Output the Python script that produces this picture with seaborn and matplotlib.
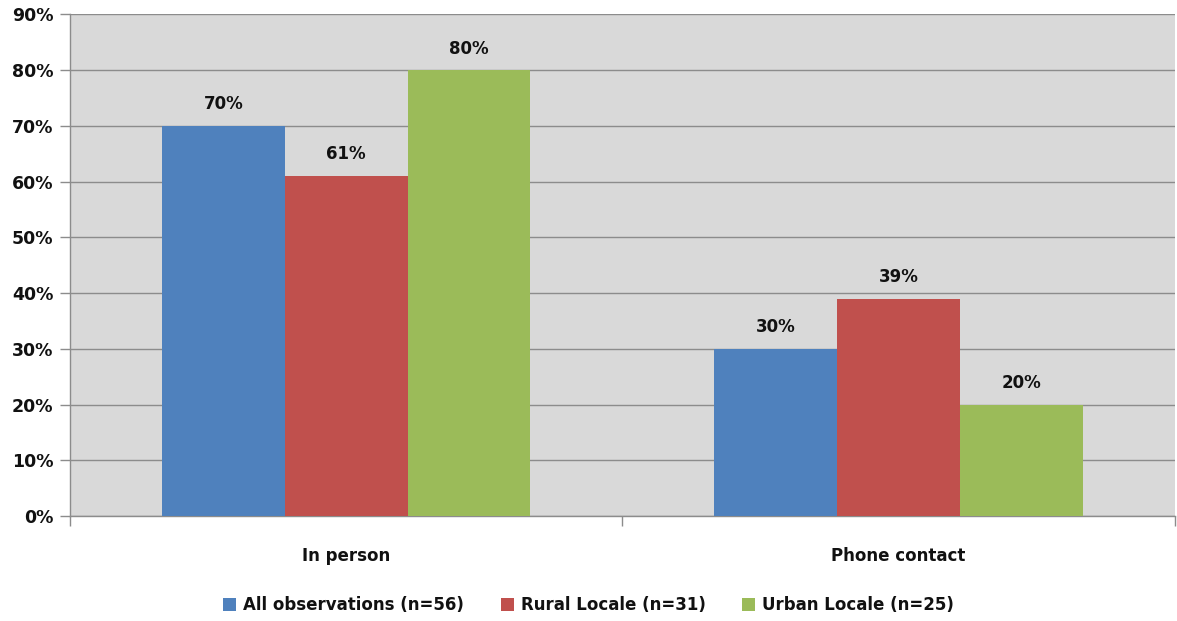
import matplotlib
matplotlib.use("Agg")
import matplotlib.pyplot as plt
import seaborn as sns
import pandas as pd
from matplotlib.patches import Patch

categories = ["In person", "Phone contact"]
series = ["All observations (n=56)", "Rural Locale (n=31)", "Urban Locale (n=25)"]
all_obs = [70, 30]
rural = [61, 39]
urban = [80, 20]
colors = ["#4F81BD", "#C0504D", "#9BBB59"]
y_ticks = [0, 10, 20, 30, 40, 50, 60, 70, 80, 90]

df = pd.DataFrame({
    "category": categories * 3,
    "series": [series[0]] * 2 + [series[1]] * 2 + [series[2]] * 2,
    "value": all_obs + rural + urban,
})

sns.set_style("white")
plt.rcParams["font.family"] = ["DejaVu Sans"]

fig = plt.figure(figsize=(11.77, 6.21), dpi=100)
ax = fig.add_axes([0.0595, 0.169, 0.9385, 0.808])
ax.set_facecolor("#D9D9D9")

sns.barplot(data=df, x="category", y="value", hue="series", order=categories,
            hue_order=series, palette=colors, width=0.667, saturation=1,
            edgecolor="none", ax=ax, legend=False, zorder=3)

for container in ax.containers:
    ax.bar_label(container, labels=[f"{v:.0f}%" for v in container.datavalues],
                 padding=9, fontsize=12, fontweight="bold", color="#111111")

ax.set_xlim(-0.5, 1.5)
ax.set_ylim(0, 90)
ax.set_yticks(y_ticks)
ax.set_yticklabels([f"{t}%" for t in y_ticks], fontsize=12.5, fontweight="bold", color="#111111")
ax.yaxis.grid(True, color="#8C8C8C", linewidth=1, zorder=0)
ax.set_axisbelow(True)
ax.tick_params(axis="y", length=7, color="#8C8C8C", width=1, direction="out", left=True, pad=5)
ax.tick_params(axis="x", length=0, pad=22, labelsize=12, labelcolor="#111111")
for lbl in ax.get_xticklabels():
    lbl.set_fontweight("bold")
ax.set_xticks([0, 1])
ax.set_xticks([-0.5, 0.5, 1.5], minor=True)
ax.tick_params(axis="x", which="minor", length=7, color="#8C8C8C", width=1, direction="out", bottom=True)
ax.set_xlabel("")
ax.set_ylabel("")
for s in ["top", "right"]:
    ax.spines[s].set_visible(False)
for s in ["left", "bottom"]:
    ax.spines[s].set_color("#8C8C8C")
    ax.spines[s].set_linewidth(1)

handles = [Patch(facecolor=c, edgecolor="none") for c in colors]
fig.legend(handles, series, loc="center", bbox_to_anchor=(0.5, 0.025), ncol=3,
           frameon=False, handlelength=0.8, handleheight=0.8, handletextpad=0.4,
           columnspacing=2.2, labelcolor="#111111",
           prop={"family": "DejaVu Sans", "weight": "bold", "size": 12})

fig.savefig("out.png", dpi=100, facecolor="white")
